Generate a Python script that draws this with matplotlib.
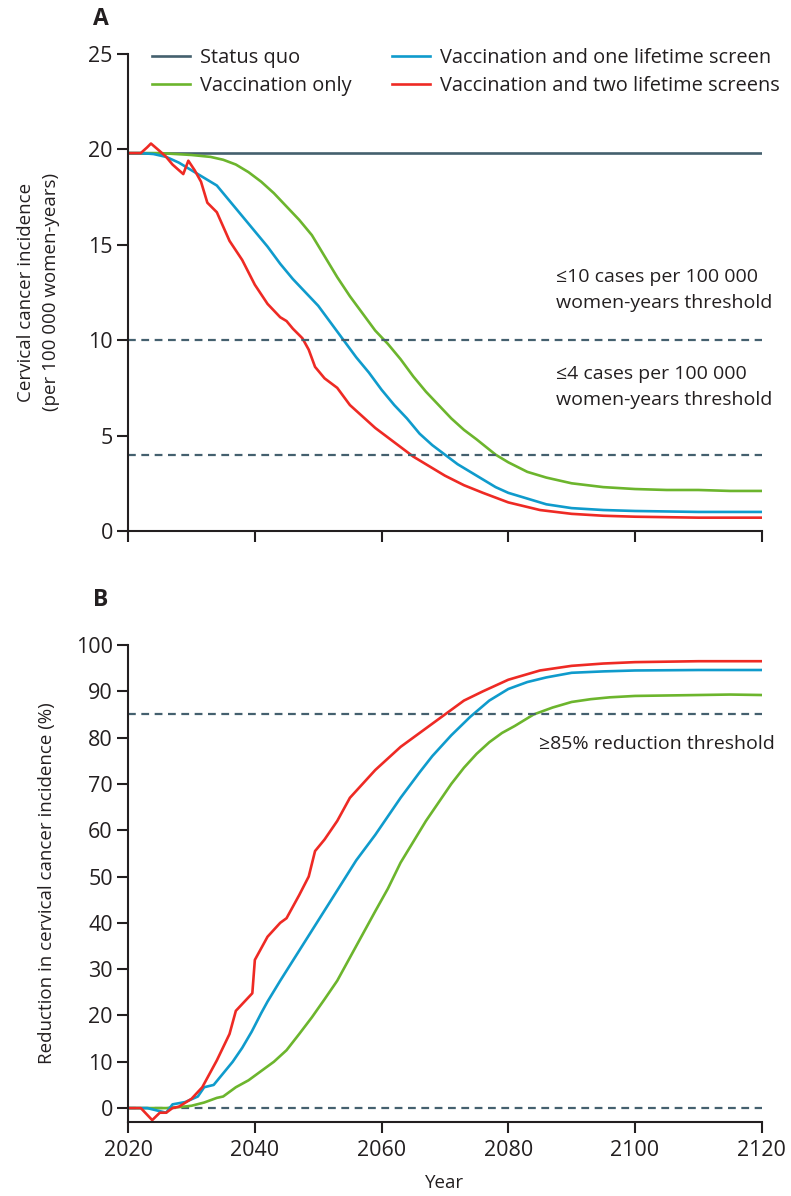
import matplotlib
matplotlib.use("Agg")
from matplotlib import pyplot as plt

# ---- data ----
years_sq = [2020, 2120]
status_quo = [19.8, 19.8]

years_vacc_a = [2020, 2025, 2030, 2033, 2035, 2037, 2039, 2041, 2043, 2045, 2047, 2049,
                2051, 2053, 2055, 2057, 2059, 2061, 2063, 2065, 2067, 2069, 2071, 2073,
                2075, 2078, 2080, 2083, 2086, 2090, 2095, 2100, 2105, 2110, 2115, 2120]
vacc_only_a = [19.8, 19.8, 19.7, 19.6, 19.45, 19.2, 18.8, 18.3, 17.7, 17.0, 16.3, 15.5,
               14.4, 13.3, 12.3, 11.4, 10.5, 9.8, 9.0, 8.1, 7.3, 6.6, 5.9, 5.3,
               4.8, 4.0, 3.6, 3.1, 2.8, 2.5, 2.3, 2.2, 2.15, 2.15, 2.1, 2.1]

years_one_a = [2020, 2022, 2024, 2026, 2028, 2030, 2032, 2034, 2036, 2038, 2040, 2042,
               2044, 2046, 2048, 2050, 2052, 2054, 2056, 2058, 2060, 2062, 2064, 2066,
               2068, 2070, 2072, 2074, 2076, 2078, 2080, 2083, 2086, 2090, 2095, 2100,
               2110, 2120]
one_screen_a = [19.8, 19.8, 19.75, 19.6, 19.3, 18.9, 18.5, 18.1, 17.3, 16.5, 15.7, 14.9,
                14.0, 13.2, 12.5, 11.8, 10.9, 10.0, 9.1, 8.3, 7.4, 6.6, 5.9, 5.1,
                4.5, 4.0, 3.5, 3.1, 2.7, 2.3, 2.0, 1.7, 1.4, 1.2, 1.1, 1.05,
                1.0, 1.0]

years_two_a = [2020, 2021, 2022, 2023, 2023.6, 2025, 2026, 2027, 2028.7, 2029.5, 2030.5,
               2031.5, 2032.5, 2034, 2036, 2038, 2040, 2042, 2044, 2045, 2046, 2047.5,
               2048.5, 2049.5, 2051, 2053, 2055, 2057, 2059, 2061, 2063, 2065, 2067,
               2070, 2073, 2076, 2080, 2085, 2090, 2095, 2100, 2110, 2120]
two_screens_a = [19.8, 19.8, 19.8, 20.1, 20.3, 19.9, 19.6, 19.2, 18.7, 19.4, 18.9,
                 18.3, 17.2, 16.7, 15.2, 14.2, 12.9, 11.9, 11.2, 11.0, 10.6, 10.1,
                 9.5, 8.6, 8.0, 7.5, 6.6, 6.0, 5.4, 4.9, 4.4, 3.9, 3.5,
                 2.9, 2.4, 2.0, 1.5, 1.1, 0.9, 0.8, 0.75, 0.7, 0.7]

years_vacc_b = [2020, 2024, 2026, 2028, 2030, 2032, 2034, 2035, 2037, 2039, 2041, 2043,
                2045, 2047, 2049, 2051, 2053, 2055, 2057, 2059, 2061, 2063, 2065, 2067,
                2069, 2071, 2073, 2075, 2077, 2079, 2081, 2084, 2087, 2090, 2093, 2096,
                2100, 2105, 2110, 2115, 2120]
vacc_only_b = [0, 0, 0, 0.2, 0.5, 1.2, 2.2, 2.5, 4.5, 6.0, 8.0, 10.0,
               12.5, 16.0, 19.6, 23.5, 27.5, 32.5, 37.5, 42.5, 47.4, 53.0, 57.5, 62.0,
               66.0, 70.0, 73.5, 76.5, 79.0, 81.0, 82.5, 85.0, 86.5, 87.7, 88.3, 88.7,
               89.0, 89.1, 89.2, 89.3, 89.2]

years_one_b = [2020, 2023, 2024.5, 2026, 2027, 2029, 2031, 2032, 2033.5, 2035, 2036.5,
               2038, 2039.5, 2041, 2042, 2044, 2047, 2050, 2053, 2056, 2059, 2061, 2063,
               2066, 2068, 2071, 2074, 2077, 2080, 2083, 2086, 2090, 2095, 2100, 2110,
               2120]
one_screen_b = [0, 0, -0.5, -1.0, 0.8, 1.3, 2.5, 4.5, 5.0, 7.5, 10.0,
                13.0, 16.5, 20.5, 23.0, 27.5, 34.0, 40.5, 47.0, 53.5, 59.0, 63.0, 67.0,
                72.5, 76.0, 80.5, 84.5, 88.0, 90.5, 92.0, 93.0, 94.0, 94.3, 94.5, 94.6,
                94.6]

years_two_b = [2020, 2022, 2023.8, 2025, 2026, 2027, 2028, 2030, 2031.7, 2034, 2036,
               2037, 2039.6, 2040, 2042, 2044, 2045, 2047, 2048.5, 2049.5, 2051, 2053,
               2055, 2057, 2059, 2061, 2063, 2065, 2067, 2070, 2073, 2076, 2080, 2085,
               2090, 2095, 2100, 2110, 2120]
two_screens_b = [0, 0, -2.6, -1.0, -1.0, 0, 0.3, 2.0, 4.5, 10.3, 16.0,
                 21.0, 24.8, 32.0, 37.0, 40.0, 41.0, 46.0, 50.0, 55.5, 58.0, 62.0,
                 67.0, 70.0, 73.0, 75.5, 78.0, 80.0, 82.0, 85.0, 88.0, 90.0, 92.5, 94.5,
                 95.5, 96.0, 96.3, 96.5, 96.5]

x_ticks = [2020, 2040, 2060, 2080, 2100, 2120]

SQ_COLOR = "#44606e"
GREEN = "#6cb52d"
BLUE = "#0f9bcc"
RED = "#ee2a24"
INK = "#231f20"

plt.rcParams["font.family"] = ["Open Sans", "DejaVu Sans"]
plt.rcParams["font.size"] = 14
plt.rcParams["text.color"] = INK
plt.rcParams["axes.labelcolor"] = INK
plt.rcParams["xtick.color"] = INK
plt.rcParams["ytick.color"] = INK


def style_axes(ax):
    for side in ("top", "right"):
        ax.spines[side].set_visible(False)
    for side in ("left", "bottom"):
        ax.spines[side].set_linewidth(1.5)
        ax.spines[side].set_color(INK)
    ax.tick_params(direction="out", length=8, width=1.5, labelsize=15.5, pad=3)
    ax.tick_params(axis="x", pad=5)
    ax.set_xlim(2020, 2120)
    ax.set_xticks(x_ticks)


fig = plt.figure(figsize=(7.91, 11.96), dpi=100)
ax_a = fig.add_axes([0.162, 0.556, 0.801, 0.399])
ax_b = fig.add_axes([0.162, 0.0619, 0.801, 0.3988])

lw = 1.9
dash = (0, (3.5, 2.5))
# panel A
ax_a.plot(years_sq, status_quo, color=SQ_COLOR, lw=lw, label="Status quo")
ax_a.plot(years_vacc_a, vacc_only_a, color=GREEN, lw=lw, label="Vaccination only")
ax_a.plot(years_one_a, one_screen_a, color=BLUE, lw=lw, label="Vaccination and one lifetime screen")
ax_a.plot(years_two_a, two_screens_a, color=RED, lw=lw, label="Vaccination and two lifetime screens")
ax_a.axhline(10, color=SQ_COLOR, lw=1.6, ls=dash)
ax_a.axhline(4, color=SQ_COLOR, lw=1.6, ls=dash)
style_axes(ax_a)
ax_a.set_ylim(0, 25)
ax_a.set_yticks([0, 5, 10, 15, 20, 25])
ax_a.set_xticklabels([])
ax_a.set_ylabel("Cervical cancer incidence\n(per 100 000 women-years)", fontsize=13.5,
                linespacing=1.45)
ax_a.yaxis.set_label_coords(-0.108, 0.5)
ax_a.text(0.675, 0.505, "\u226410 cases per 100 000\nwomen-years threshold", transform=ax_a.transAxes,
          fontsize=14, va="center", ha="left", linespacing=1.55)
ax_a.text(0.675, 0.302, "\u22644 cases per 100 000\nwomen-years threshold", transform=ax_a.transAxes,
          fontsize=14, va="center", ha="left", linespacing=1.55)
ax_a.legend(loc="upper left", bbox_to_anchor=(0.025, 1.03), ncol=2, frameon=False,
            fontsize=14.4, handlelength=1.9, handletextpad=0.5, columnspacing=2.0,
            labelspacing=0.4, borderaxespad=0)
fig.text(0.117, 0.994, "A", fontsize=16.5, fontweight="bold", va="top", ha="left")

# panel B
ax_b.plot(years_vacc_b, vacc_only_b, color=GREEN, lw=lw)
ax_b.plot(years_one_b, one_screen_b, color=BLUE, lw=lw)
ax_b.plot(years_two_b, two_screens_b, color=RED, lw=lw)
ax_b.axhline(85, color=SQ_COLOR, lw=1.6, ls=dash)
ax_b.axhline(0, color=SQ_COLOR, lw=1.6, ls=dash, zorder=1)
style_axes(ax_b)
ax_b.set_ylim(-3, 100)
ax_b.set_yticks(range(0, 101, 10))
ax_b.set_ylabel("Reduction in cervical cancer incidence (%)", fontsize=13.5)
ax_b.yaxis.set_label_coords(-0.114, 0.5)
ax_b.set_xlabel("Year", fontsize=13.5, labelpad=9)
ax_b.text(0.648, 0.792, "\u226585% reduction threshold", transform=ax_b.transAxes,
          fontsize=14, va="center", ha="left")
fig.text(0.117, 0.508, "B", fontsize=16.5, fontweight="bold", va="top", ha="left")

fig.savefig("out.png", dpi=100)
